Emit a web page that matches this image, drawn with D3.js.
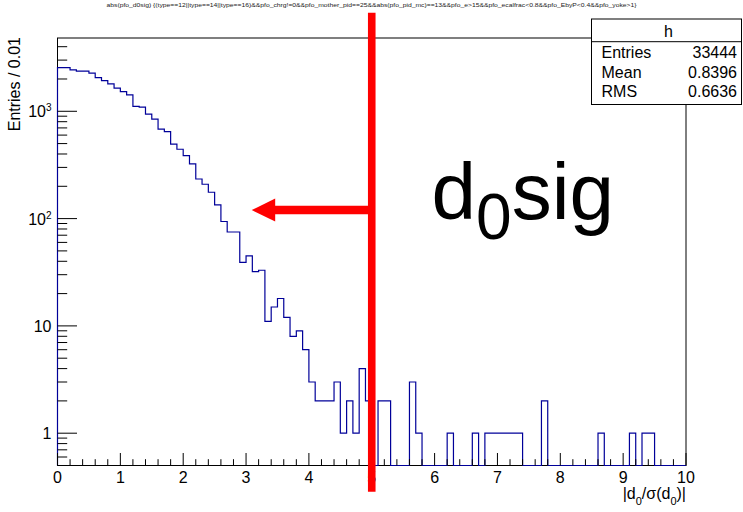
<!DOCTYPE html>
<html>
<head>
<meta charset="utf-8">
<script src="https://cdn.jsdelivr.net/npm/d3@7"></script>
<style>
  body { margin: 0; background: #fff; }
  text { font-family: "Liberation Sans", Arial, Helvetica, sans-serif; }
</style>
</head>
<body>
<script>
// histogram h : |d0/sigma(d0)|, 100 bins from 0 to 10
const binEdges = [0, 10]
const binValues = [
    2554, 2554, 2432, 2364, 2364, 2265, 2061, 1933, 1800, 1642,
    1527, 1422, 1110, 1092, 940, 844, 681, 647, 494, 443,
    387, 323, 234, 209, 176, 134, 94, 75, 75, 39,
    45, 32, 33, 11, 15, 18, 12, 8, 9, 6,
    3, 2, 2, 2, 3, 1, 2, 1, 4, 2,
    0, 2, 2, 0, 0, 0, 3, 1, 0, 0,
    0, 0, 1, 0, 0, 0, 1, 0, 1, 1,
    1, 1, 1, 1, 0, 0, 0, 2, 0, 0,
    0, 0, 0, 0, 0, 0, 1, 0, 0, 0,
    0, 1, 0, 1, 1, 0, 0, 0, 0, 0
]
const yRange = [0.5, 4820]
const xTicks = [0, 1, 2, 3, 4, 5, 6, 7, 8, 9, 10]
const yDecades = [1, 10, 100, 1000]
const yTickLabels = [['1', ''], ['10', ''], ['10', '2'], ['10', '3']]

const titleText = 'abs(pfo_d0sig) {(type==12||type==14||type==16)&&pfo_chrg!=0&&pfo_mother_pid==25&&abs(pfo_pid_mc)==13&&pfo_e>15&&pfo_ecalfrac<0.8&&pfo_EbyP<0.4&&pfo_yoke>1}'
const statsName = 'h'
const statsLabels = ['Entries', 'Mean', 'RMS']
const statsValues = ['33444', '0.8396', '0.6636']

// cut line at d0sig = 5, arrow pointing to the kept side
const cutValue = 5
const arrowTo = 3.09
const arrowY = 120
const labelPos = [6, 100]

const m = {
    width: 743,
    height: 512,
    left: 57.5,
    right: 686,
    top: 38,
    bottom: 465.5
}

const svg = d3.select('body').append('svg')
    .attr('width', m.width)
    .attr('height', m.height)

const x = d3.scaleLinear()
    .domain(binEdges)
    .range([m.left, m.right])

const y = d3.scaleLog()
    .domain(yRange)
    .range([m.bottom, m.top])

const g = svg.append('g')

// frame
g.append('rect')
    .attr('x', m.left)
    .attr('y', m.top)
    .attr('width', m.right - m.left)
    .attr('height', m.bottom - m.top)
    .attr('fill', 'none')
    .attr('stroke', 'black')
    .attr('stroke-width', 1)

// histogram outline as steps, empty bins drop to the frame bottom
const nBins = binValues.length
const bw = (binEdges[1] - binEdges[0]) / nBins
let pts = [[binEdges[0], yRange[0]]]
binValues.forEach(function (v, i) {
    let val = v > 0 ? v : yRange[0]
    pts.push([binEdges[0] + i * bw, val])
    pts.push([binEdges[0] + (i + 1) * bw, val])
})
pts.push([binEdges[1], yRange[0]])

const histLine = d3.line()
    .x(function (d) { return x(d[0]) })
    .y(function (d) { return y(d[1]) })

g.append('path')
    .datum(pts)
    .attr('d', histLine)
    .attr('fill', 'none')
    .attr('stroke', '#000099')
    .attr('stroke-width', 1.2)

// x axis ticks (drawn by hand, ROOT style: inside the frame)
const xMinor = d3.range(0, 10.001, 0.2)
g.selectAll('.xminor')
    .data(xMinor)
    .enter()
    .append('line')
    .attr('x1', function (d) { return x(d) })
    .attr('x2', function (d) { return x(d) })
    .attr('y1', m.bottom)
    .attr('y2', function (d, i) { return i % 5 == 0 ? m.bottom - 12.5 : m.bottom - 6.3 })
    .attr('stroke', 'black')
    .attr('stroke-width', 1)

g.selectAll('.xlab')
    .data(xTicks)
    .enter()
    .append('text')
    .attr('x', function (d) { return x(d) })
    .attr('y', 482.5)
    .attr('text-anchor', 'middle')
    .attr('font-size', 16)
    .text(function (d) { return d })

// y axis ticks, log scale
let yMinor = []
for (let e = -1; e <= 3; e++) {
    for (let k = 1; k <= 9; k++) {
        let v = k * Math.pow(10, e)
        if (v >= yRange[0] && v <= yRange[1]) yMinor.push({ v: v, major: k == 1 })
    }
}
g.selectAll('.yminor')
    .data(yMinor)
    .enter()
    .append('line')
    .attr('x1', m.left)
    .attr('x2', function (d) { return d.major ? m.left + 19.5 : m.left + 9.7 })
    .attr('y1', function (d) { return y(d.v) })
    .attr('y2', function (d) { return y(d.v) })
    .attr('stroke', 'black')
    .attr('stroke-width', 1)

const ylab = g.selectAll('.ylab')
    .data(yDecades)
    .enter()
    .append('text')
    .attr('x', 51.5)
    .attr('y', function (d) { return y(d) + 6 })
    .attr('text-anchor', 'end')
    .attr('font-size', 16)
ylab.text(function (d, i) { return yTickLabels[i][0] })
ylab.filter(function (d, i) { return yTickLabels[i][1] != '' })
    .append('tspan')
    .attr('dy', -6)
    .attr('font-size', 10)
    .text(function (d) { return yTickLabels[yDecades.indexOf(d)][1] })

// axis titles
svg.append('text')
    .attr('transform', 'translate(19.5,' + (m.top - 1) + ') rotate(-90)')
    .attr('text-anchor', 'end')
    .attr('font-size', 16)
    .text('Entries / 0.01')

const xt = svg.append('text')
    .attr('x', m.right)
    .attr('y', 498.5)
    .attr('text-anchor', 'end')
    .attr('font-size', 16)
xt.append('tspan').text('|d')
xt.append('tspan').attr('font-size', 11).attr('dy', 6).text('0')
xt.append('tspan').attr('dy', -6).text('/σ(d')
xt.append('tspan').attr('font-size', 11).attr('dy', 6).text('0')
xt.append('tspan').attr('dy', -6).text(')|')

// title
svg.append('text')
    .attr('x', 371.5)
    .attr('y', 6.5)
    .attr('text-anchor', 'middle')
    .attr('font-size', 6.2)
    .attr('textLength', 530)
    .attr('lengthAdjust', 'spacingAndGlyphs')
    .attr('fill', '#222')
    .text(titleText)

// stats box
const sb = { x: 591.5, y: 19, w: 150, h: 85.5, head: 41.7 }
const st = svg.append('g')
st.append('rect')
    .attr('x', sb.x)
    .attr('y', sb.y)
    .attr('width', sb.w)
    .attr('height', sb.h)
    .attr('fill', 'white')
    .attr('stroke', 'black')
    .attr('stroke-width', 1)
st.append('line')
    .attr('x1', sb.x).attr('x2', sb.x + sb.w)
    .attr('y1', sb.head).attr('y2', sb.head)
    .attr('stroke', 'black')
st.append('text')
    .attr('x', sb.x + sb.w / 2 + 2)
    .attr('y', 36.7)
    .attr('text-anchor', 'middle')
    .attr('font-size', 16)
    .text(statsName)
st.selectAll('.slab')
    .data(statsLabels)
    .enter()
    .append('text')
    .attr('x', 601.5)
    .attr('y', function (d, i) { return 58 + i * 19.5 })
    .attr('font-size', 16)
    .text(function (d) { return d })
st.selectAll('.sval')
    .data(statsValues)
    .enter()
    .append('text')
    .attr('x', 737)
    .attr('y', function (d, i) { return 58 + i * 19.5 })
    .attr('text-anchor', 'end')
    .attr('font-size', 16)
    .text(function (d) { return d })

// red cut line and arrow
const ann = svg.append('g')
ann.append('line')
    .attr('x1', x(cutValue)).attr('x2', x(cutValue))
    .attr('y1', 12.7).attr('y2', 491.7)
    .attr('stroke', '#ff0000')
    .attr('stroke-width', 7.6)

const headLen = 23.5
const tipX = x(arrowTo)
const ay = y(arrowY)
ann.append('line')
    .attr('x1', x(cutValue)).attr('x2', tipX + headLen - 1)
    .attr('y1', ay).attr('y2', ay)
    .attr('stroke', '#ff0000')
    .attr('stroke-width', 8.5)
ann.append('path')
    .attr('d', 'M' + tipX + ',' + ay + 'L' + (tipX + headLen) + ',' + (ay - 11.5) +
        'L' + (tipX + headLen) + ',' + (ay + 11.5) + 'Z')
    .attr('fill', '#ff0000')

const lab = svg.append('text')
    .attr('x', x(labelPos[0]) - 3)
    .attr('y', y(labelPos[1]))
    .attr('font-size', 80)
    .attr('fill', 'black')
lab.append('tspan').text('d')
lab.append('tspan').attr('font-size', 64).attr('dy', 20).text('0')
lab.append('tspan').attr('dy', -20).text('sig')
</script>
</body>
</html>
